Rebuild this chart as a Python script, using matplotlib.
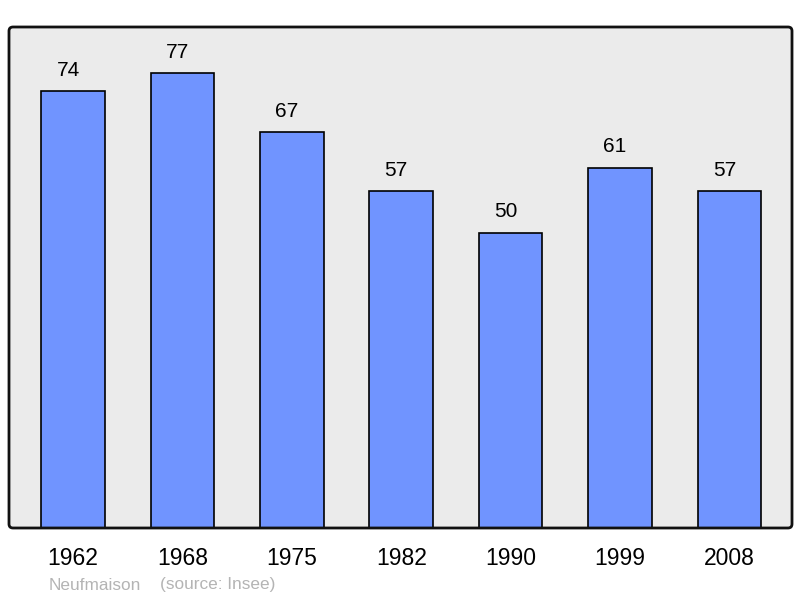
import matplotlib
matplotlib.use("Agg")
import matplotlib.pyplot as plt
from matplotlib.patches import FancyBboxPatch

years = ["1962", "1968", "1975", "1982", "1990", "1999", "2008"]
population = [74, 77, 67, 57, 50, 61, 57]
commune = "Neufmaison"
source = "(source: Insee)"

plt.rcParams['font.family'] = ['Liberation Sans', 'DejaVu Sans']

fig = plt.figure(figsize=(8, 5.98), dpi=100)
L, R, T, B = 9, 792, 27, 528
W, H = 800, 598
ax = fig.add_axes([L / W, 1 - B / H, (R - L) / W, (B - T) / H])
ax.set_facecolor('none')

bg = FancyBboxPatch((L, H - B), R - L, B - T, boxstyle="round,pad=0,rounding_size=4",
                    transform=None, facecolor='#ebebeb', edgecolor='none', zorder=-2)
frame = FancyBboxPatch((L, H - B), R - L, B - T, boxstyle="round,pad=0,rounding_size=4",
                       transform=None, facecolor='none', edgecolor='#111111', linewidth=2, zorder=5)
fig.patches.append(bg)
fig.patches.append(frame)

x = list(range(len(years)))
ax.bar(x, population, width=0.58, color='#7094ff', edgecolor='black', linewidth=1.2, zorder=2)
ax.set_xlim(-0.585, 6.572)
ax.set_ylim(0, 84.8)

for xi, v in zip(x, population):
    ax.annotate(str(v), (xi, v), xytext=(-3.6, 8), textcoords='offset points',
                ha='center', va='bottom', fontsize=15, color='black')

ax.set_xticks(x)
ax.set_xticklabels(years, fontsize=16.5)
ax.tick_params(axis='x', length=0, pad=14)
ax.set_yticks([])
for s in ax.spines.values():
    s.set_visible(False)

fig.text(49 / W, 1 - 585 / H, commune, fontsize=12.4, color='#b4b4b4', va='center', ha='left')
fig.text(160 / W, 1 - 585 / H, source, fontsize=12.4, color='#b4b4b4', va='center', ha='left')

fig.savefig("out.png", dpi=100)
